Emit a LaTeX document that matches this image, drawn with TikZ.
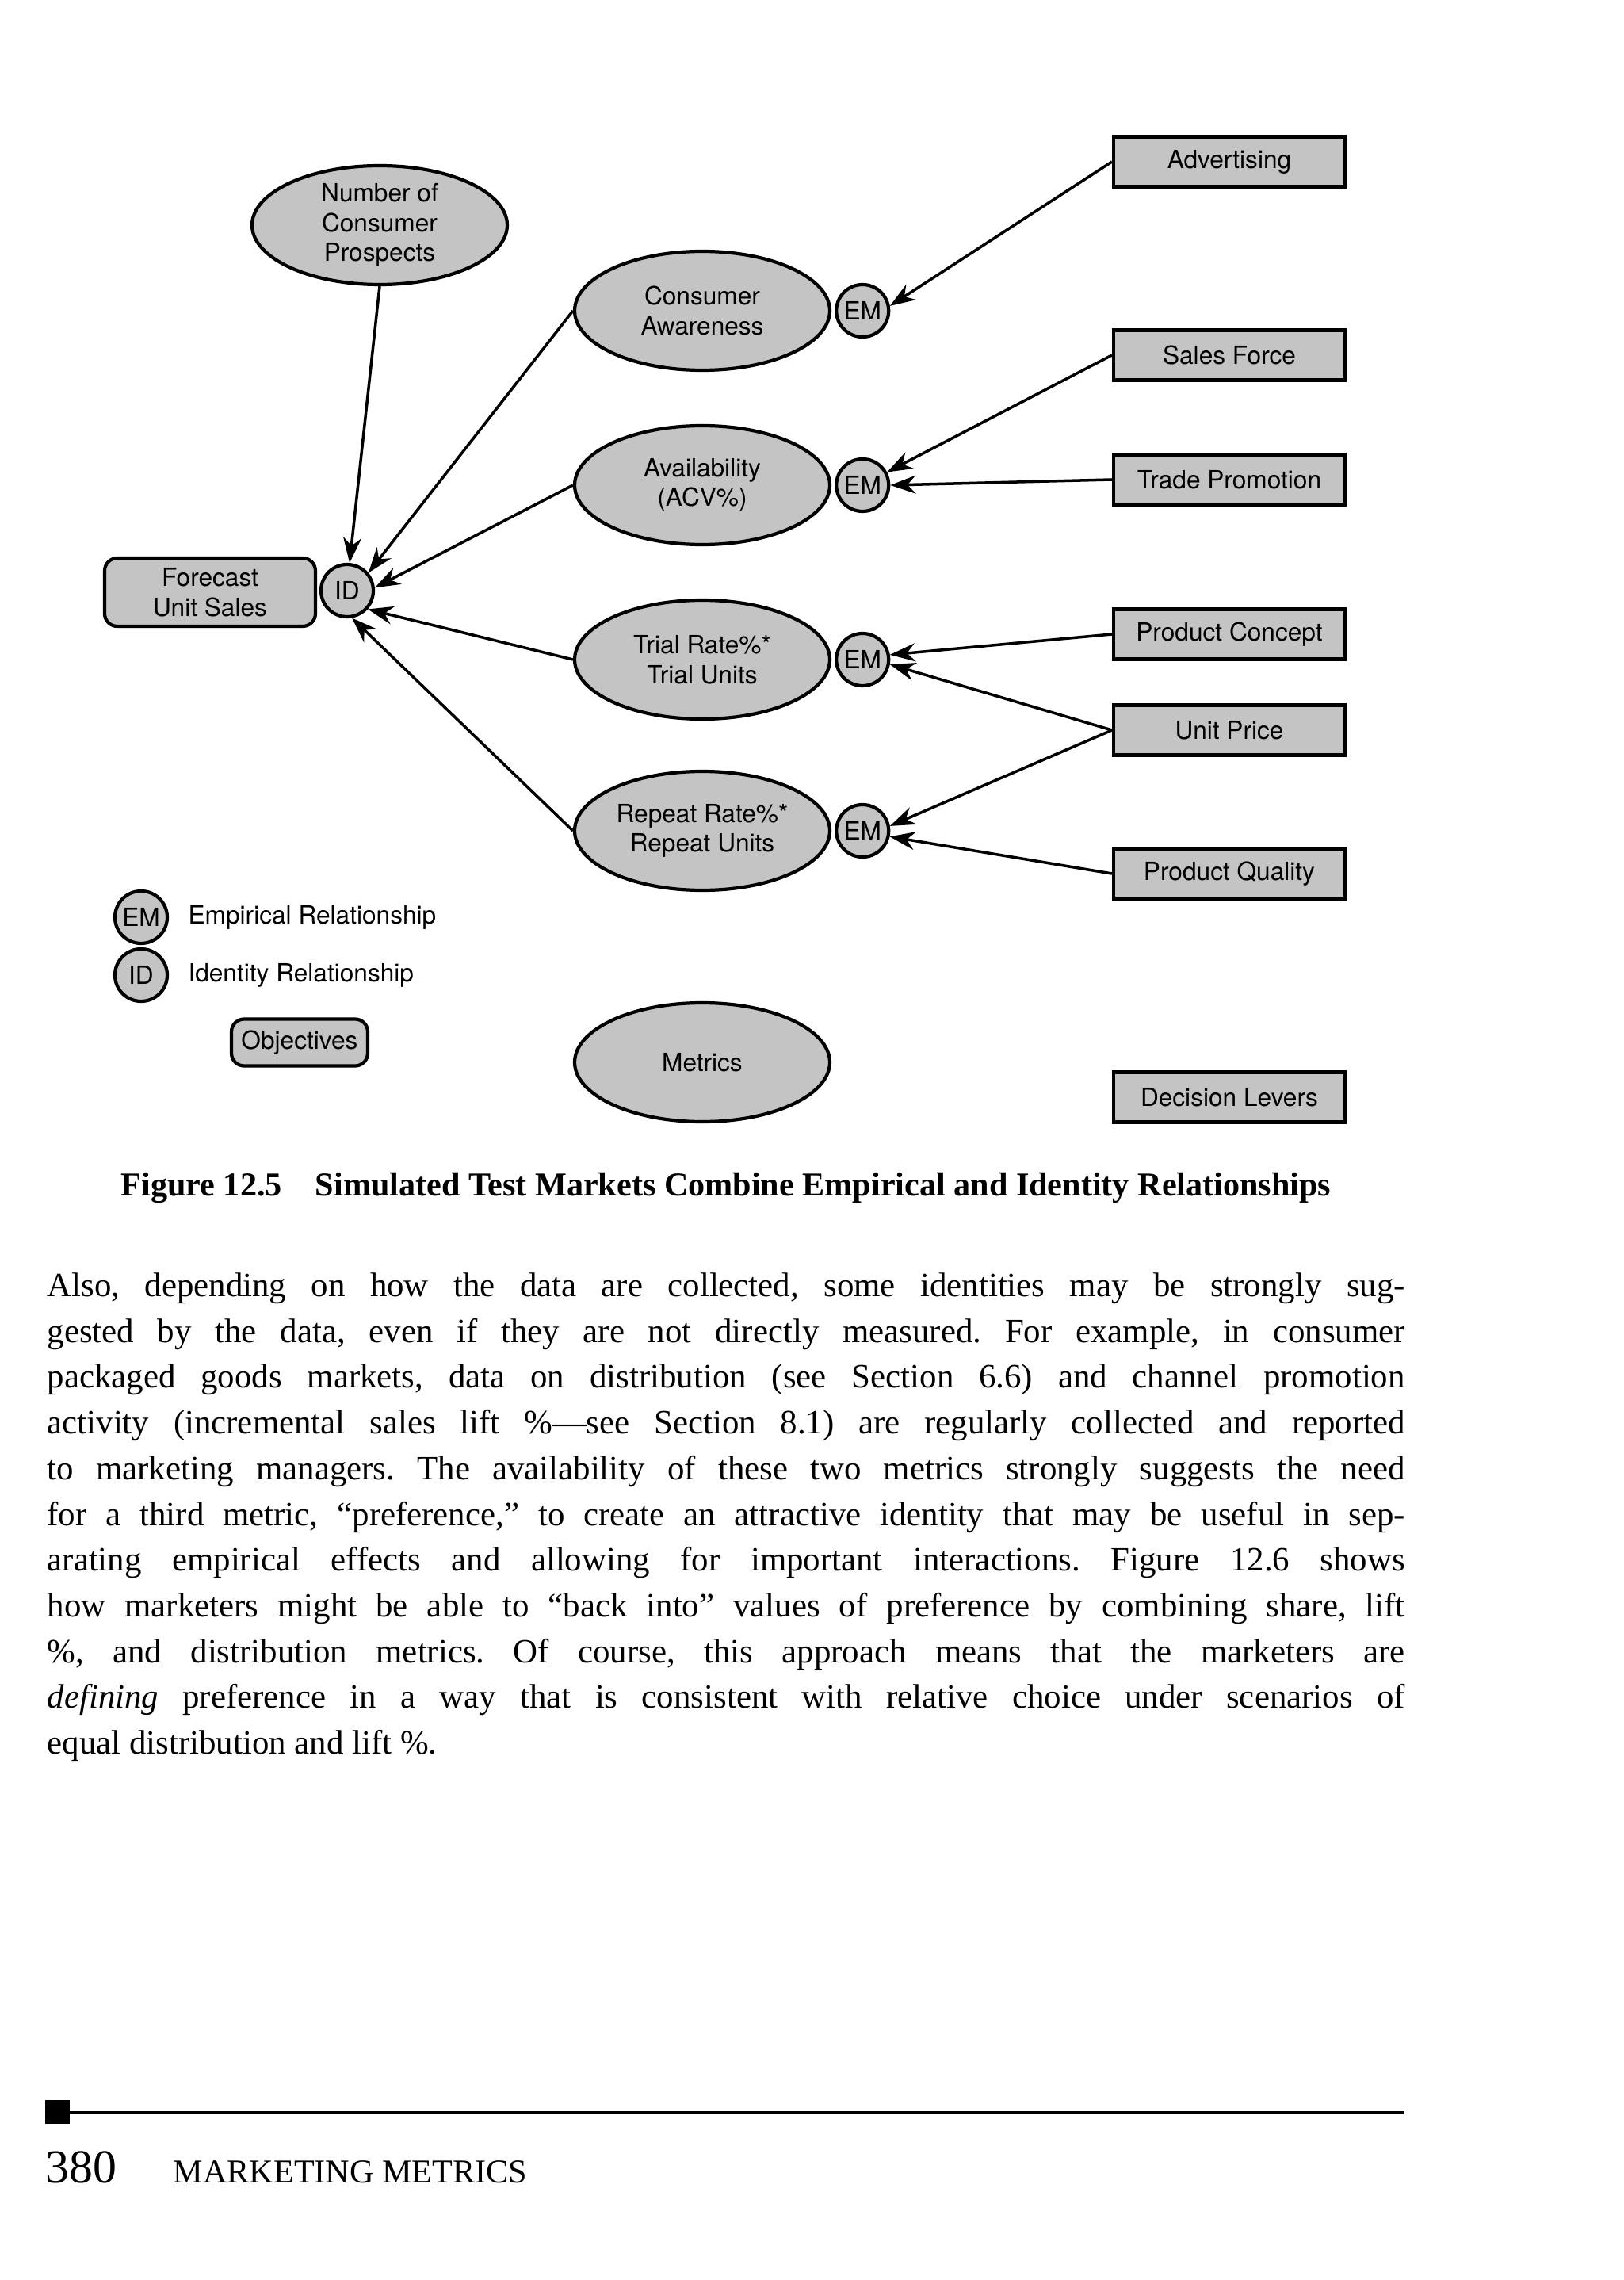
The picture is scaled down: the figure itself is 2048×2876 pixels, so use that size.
\documentclass[tikz,border=0pt]{standalone}
\usepackage{fontspec}
\setmainfont{Liberation Serif}
\newfontfamily\diagfont{TeX Gyre Heros}
\usepackage{xcolor}
\usetikzlibrary{positioning,shapes.geometric,arrows.meta}
\definecolor{shade}{RGB}{196,196,196}
\frenchspacing

\begin{document}
\begin{tikzpicture}[x=0.1mm, y=-0.1mm,
  lbl/.style={font=\diagfont\fontsize{9}{10.7}\selectfont, align=center},
  metric/.style={lbl, ellipse, draw, fill=shade, line width=1.2pt, inner sep=0pt, minimum width=3.22cm, minimum height=1.5cm},
  rel/.style={lbl, circle, draw, fill=shade, line width=1.2pt, inner sep=0pt, minimum size=0.66cm},
  lever/.style={lbl, rectangle, draw, fill=shade, line width=1.2pt, minimum width=2.92cm, minimum height=0.63cm},
  goal/.style={lbl, rectangle, rounded corners=1.6mm, draw, fill=shade, line width=1.2pt},
  link/.style={-{Stealth[length=3.2mm, width=2.3mm]}, line width=1pt},
  key/.style={lbl, anchor=west},
  node distance=2.5mm]
\useasboundingbox (0,0) rectangle (2048,2876);
\node[goal, minimum width=2.66cm, minimum height=0.86cm] (fcst) at (265,747) {Forecast\\Unit Sales};
\node[rel] (id) at (438,745) {ID};
\node[metric] (prosp) at (479,284) {Number of\\Consumer\\Prospects};
\node[metric] (aware) at (886,392) {Consumer\\Awareness};
\node[metric] (avail) at (886,612) {Availability\\(ACV\%)};
\node[metric] (trial) at (886,832) {Trial Rate\%*\\Trial Units};
\node[metric] (rpt)   at (886,1048) {Repeat Rate\%*\\Repeat Units};
\node[rel, right=0.4mm of aware] (em1) {EM};
\node[rel, right=0.4mm of avail] (em2) {EM};
\node[rel, right=0.4mm of trial] (em3) {EM};
\node[rel, right=0.4mm of rpt]   (em4) {EM};
\node[lever] (adv)     at (1551,204)  {Advertising};
\node[lever] (sales)   at (1551,448)  {Sales Force};
\node[lever] (trade)   at (1551,605)  {Trade Promotion};
\node[lever] (concept) at (1551,800)  {Product Concept};
\node[lever] (price)   at (1551,921)  {Unit Price};
\node[lever] (quality) at (1551,1102) {Product Quality};
\draw[link] (prosp.south) -- (id.85);
\draw[link] (aware.west)  -- (id.40);
\draw[link] (avail.west)  -- (id.6);
\draw[link] (trial.west)  -- (id.-42);
\draw[link] (rpt.west)    -- (id.-80);
\draw[link] (adv.west)     -- (em1.10);
\draw[link] (sales.west)   -- (em2.28);
\draw[link] (trade.west)   -- (em2.east);
\draw[link] (concept.west) -- (em3.10);
\draw[link] (price.west)   -- (em3.-10);
\draw[link] (price.west)   -- (em4.10);
\draw[link] (quality.west) -- (em4.-12);
\node[rel] (keyem) at (178,1157) {EM};
\node[key, right=1.2mm of keyem] (keyemtxt) {Empirical Relationship};
\node[rel] (keyid) at (178,1230) {ID};
\node[key, right=1.2mm of keyid] (keyidtxt) {Identity Relationship};
\node[goal, minimum width=1.72cm, minimum height=0.59cm] (obj) at (378,1315) {Objectives};
\node[metric] (met) at (886,1340) {Metrics};
\node[lever] (lev) at (1551,1384) {Decision Levers};
\node[font=\bfseries\fontsize{12}{14}\selectfont, anchor=base, inner sep=0pt] (cap) at (916,1508) {Figure 12.5\quad Simulated Test Markets Combine Empirical and Identity Relationships};
\node[anchor=north west, inner sep=0pt, text width=17.13cm, align=justify, font=\fontsize{12.2}{16.42}\selectfont] (body) at (59,1605) {Also, depending on how the data are collected, some identities may be strongly sug-\linebreak
gested by the data, even if they are not directly measured. For example, in consumer\linebreak
packaged goods markets, data on distribution (see Section 6.6) and channel promotion\linebreak
activity (incremental sales lift \%—see Section 8.1) are regularly collected and reported\linebreak
to marketing managers. The availability of these two metrics strongly suggests the need\linebreak
for a third metric, “preference,” to create an attractive identity that may be useful in sep-\linebreak
arating empirical effects and allowing for important interactions. Figure 12.6 shows\linebreak
how marketers might be able to “back into” values of preference by combining share, lift\linebreak
\%, and distribution metrics. Of course, this approach means that the marketers are\linebreak
\emph{defining} preference in a way that is consistent with relative choice under scenarios of\linebreak
equal distribution and lift \%.};
\fill (57,2649) rectangle (88,2679);
\draw[line width=1.4pt] (88,2665) -- (1772,2665);
\node[anchor=base west, inner sep=0pt, font=\fontsize{17}{20}\selectfont] (pg) at (57,2753) {380};
\node[anchor=base west, inner sep=0pt, font=\fontsize{12}{14}\selectfont] (run) at (218,2753) {MARKETING METRICS};
\end{tikzpicture}
\end{document}
